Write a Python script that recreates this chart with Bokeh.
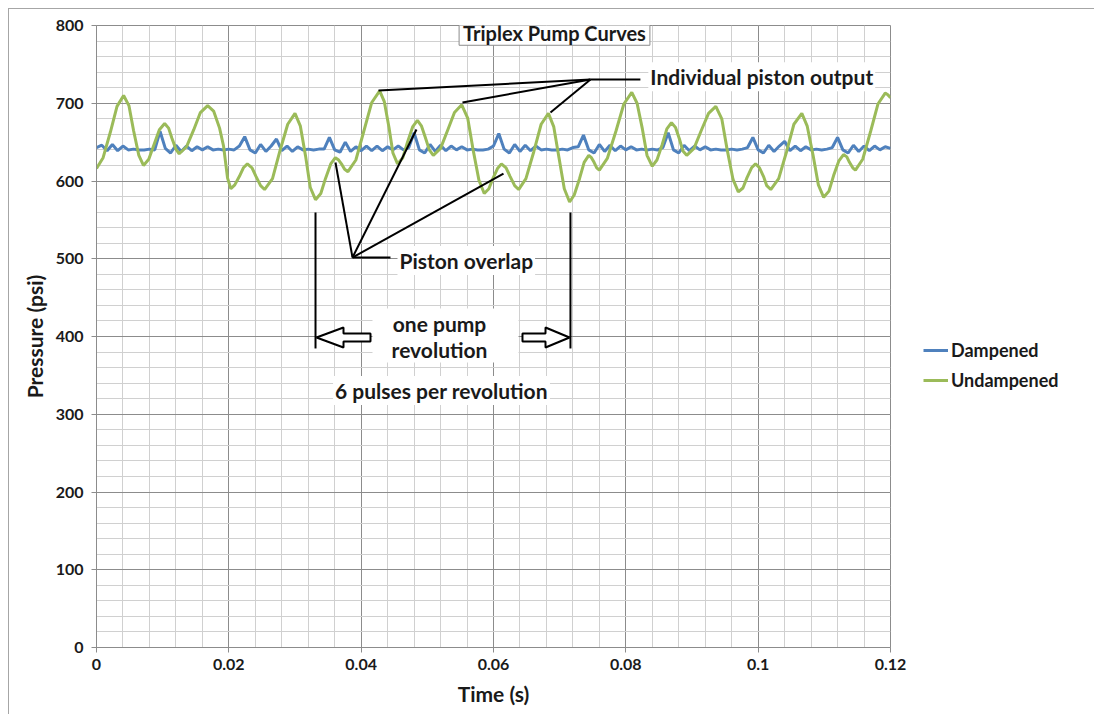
from bokeh.plotting import figure
from bokeh.models import (SingleIntervalTicker, CustomJSTickFormatter, Label, Legend,
                          LegendItem, BoxAnnotation)
from bokeh.embed import file_html
from bokeh.resources import INLINE

# ---------------- data ----------------
# Undampened pump pressure (psi) vs time (s)
und_t = [0.0000, 0.0010, 0.0021, 0.0031, 0.0041, 0.0049, 0.0056, 0.0064, 0.0071, 0.0079,
         0.0087, 0.0095, 0.0103, 0.0109, 0.0114, 0.0120, 0.0125, 0.0136, 0.0147, 0.0157,
         0.0168, 0.0177, 0.0186, 0.0192, 0.0198, 0.0203, 0.0209, 0.0216, 0.0222, 0.0228,
         0.0235, 0.0241, 0.0248, 0.0254, 0.0266, 0.0277, 0.0289, 0.0300, 0.0308, 0.0316,
         0.0323, 0.0331, 0.0339, 0.0346, 0.0354, 0.0361, 0.0366, 0.0371, 0.0375, 0.0380,
         0.0392, 0.0404, 0.0416, 0.0428, 0.0435, 0.0442, 0.0448, 0.0455, 0.0463, 0.0470,
         0.0478, 0.0485, 0.0491, 0.0497, 0.0503, 0.0509, 0.0520, 0.0531, 0.0541, 0.0552,
         0.0561, 0.0569, 0.0578, 0.0586, 0.0593, 0.0599, 0.0606, 0.0612, 0.0619, 0.0625,
         0.0632, 0.0638, 0.0649, 0.0661, 0.0672, 0.0683, 0.0691, 0.0699, 0.0707, 0.0715,
         0.0722, 0.0730, 0.0737, 0.0744, 0.0748, 0.0752, 0.0756, 0.0760, 0.0772, 0.0785,
         0.0797, 0.0809, 0.0817, 0.0825, 0.0832, 0.0840, 0.0847, 0.0855, 0.0862, 0.0869,
         0.0875, 0.0881, 0.0886, 0.0892, 0.0903, 0.0914, 0.0925, 0.0936, 0.0945, 0.0953,
         0.0962, 0.0970, 0.0977, 0.0983, 0.0990, 0.0996, 0.1002, 0.1008, 0.1013, 0.1019,
         0.1031, 0.1043, 0.1054, 0.1066, 0.1074, 0.1083, 0.1091, 0.1099, 0.1107, 0.1114,
         0.1122, 0.1129, 0.1134, 0.1138, 0.1143, 0.1147, 0.1158, 0.1170, 0.1181, 0.1192,
         0.1196, 0.1200]
und_p = [616, 630, 663, 696, 710, 697, 665, 633, 620, 628,
         647, 666, 674, 668, 655, 641, 635, 644, 666, 688,
         697, 690, 668, 645, 604, 590, 595, 606, 617, 622,
         617, 606, 594, 589, 603, 638, 673, 687, 671, 632,
         592, 576, 584, 603, 622, 630, 627, 621, 615, 612,
         627, 664, 701, 716, 702, 669, 636, 622, 630, 650,
         670, 678, 671, 656, 640, 633, 642, 666, 688, 698,
         681, 641, 601, 584, 590, 603, 616, 622, 617, 606,
         594, 589, 603, 638, 673, 687, 670, 630, 590, 573,
         582, 603, 624, 633, 630, 624, 617, 614, 629, 664,
         699, 714, 700, 667, 633, 619, 627, 647, 667, 675,
         669, 654, 639, 633, 642, 665, 687, 696, 680, 641,
         602, 586, 591, 604, 617, 622, 617, 606, 594, 589,
         603, 638, 673, 687, 671, 633, 595, 579, 587, 607,
         626, 634, 631, 624, 617, 614, 628, 664, 699, 713,
         711, 707]

# Dampened pump pressure (psi), sampled every 0.8 ms from t = 0
damp_dt = 0.0008
damp_p = [643, 646, 639, 647, 639, 645, 640, 641, 640, 640,
          641, 640, 664, 642, 636, 646, 638, 645, 639, 644,
          640, 644, 640, 641, 640, 641, 640, 645, 657, 640,
          636, 647, 638, 645, 654, 639, 645, 638, 644, 640,
          641, 640, 641, 641, 656, 640, 637, 650, 638, 644,
          639, 645, 639, 645, 639, 644, 640, 645, 640, 643,
          662, 640, 636, 647, 638, 646, 639, 645, 640, 644,
          640, 641, 640, 640, 641, 645, 661, 641, 636, 647,
          638, 646, 639, 645, 640, 641, 640, 640, 641, 640,
          643, 644, 659, 640, 636, 647, 638, 646, 639, 645,
          640, 644, 640, 641, 640, 641, 640, 643, 662, 640,
          636, 646, 639, 645, 640, 644, 640, 641, 640, 640,
          641, 640, 641, 643, 656, 640, 636, 646, 638, 645,
          651, 639, 645, 639, 644, 640, 641, 640, 641, 643,
          656, 640, 636, 646, 638, 645, 639, 645, 640, 644,
          642]
damp_t = [round(i * damp_dt, 4) for i in range(len(damp_p))]

series_names = ["Dampened", "Undampened"]
title_text = "Triplex Pump Curves"
x_label = "Time (s)"
y_label = "Pressure (psi)"

# ---------------- styling ----------------
FONT = "Lato"
BLUE = "#4f81bd"
GREEN = "#9bbb59"
MAJOR = "#8c8c8c"
MINOR = "#d0d0d0"
TXT = "#1a1a1a"

p = figure(frame_width=794, frame_height=622,
           min_border_left=87, min_border_right=197, min_border_top=16, min_border_bottom=67,
           x_range=(0, 0.12), y_range=(0, 800),
           output_backend="svg", toolbar_location=None)
p.styles = {"margin-left": "8px", "margin-top": "8px",
            "border-left": "1px solid #a6a6a6", "border-top": "1px solid #a6a6a6"}
p.outline_line_color = MAJOR
p.background_fill_color = "white"
p.border_fill_color = "white"

p.xaxis.ticker = SingleIntervalTicker(interval=0.02, num_minor_ticks=5)
p.yaxis.ticker = SingleIntervalTicker(interval=100, num_minor_ticks=5)
p.xaxis.formatter = CustomJSTickFormatter(
    code="return tick.toFixed(2).replace(/0+$/, '').replace(/\\.$/, '');")

for g in (p.xgrid, p.ygrid):
    g.grid_line_color = MAJOR
    g.grid_line_width = 1
    g.minor_grid_line_color = MINOR
    g.minor_grid_line_width = 1

for ax in (p.xaxis, p.yaxis):
    ax.axis_line_color = MAJOR
    ax.major_tick_line_color = MAJOR
    ax.major_tick_out = 5
    ax.major_tick_in = 0
    ax.minor_tick_line_color = None
    ax.major_label_text_font = FONT
    ax.major_label_text_font_style = "bold"
    ax.major_label_text_font_size = "16px"
    ax.major_label_text_color = TXT
    ax.axis_label_text_font = FONT
    ax.axis_label_text_font_style = "bold"
    ax.axis_label_text_font_size = "21px"
    ax.axis_label_text_color = TXT

p.xaxis.axis_label = x_label
p.yaxis.axis_label = y_label
p.xaxis.major_label_standoff = 6
p.yaxis.major_label_standoff = 8
p.xaxis.axis_label_standoff = 8
p.yaxis.axis_label_standoff = 6

r_damp = p.line(damp_t, damp_p, line_color=BLUE, line_width=3)
r_und = p.line(und_t, und_p, line_color=GREEN, line_width=3)

legend = Legend(items=[LegendItem(label=series_names[0], renderers=[r_damp]),
                       LegendItem(label=series_names[1], renderers=[r_und])],
                location=(33, 256), padding=0, margin=0, spacing=8,
                glyph_width=25, glyph_height=20, label_height=20, label_standoff=3,
                border_line_color=None, background_fill_alpha=0,
                label_text_font=FONT, label_text_font_style="bold",
                label_text_font_size="18px", label_text_color=TXT)
p.add_layout(legend, "right")

# ---------------- annotations ----------------
# pointer lines (data coordinates)
seg_x0 = [0.07466, 0.07466, 0.07466, 0.07466, 0.03869, 0.03869, 0.03869, 0.03869, 0.0331, 0.07163]
seg_y0 = [730.5, 730.5, 730.5, 730.5, 501.6, 501.6, 501.6, 501.6, 559.5, 559.5]
seg_x1 = [0.04262, 0.05531, 0.06861, 0.0822, 0.03612, 0.04836, 0.06151, 0.04443, 0.0331, 0.07163]
seg_y1 = [716.4, 701.0, 688.0, 730.5, 623.8, 666.2, 609.6, 501.6, 384.6, 384.6]
p.segment(seg_x0, seg_y0, seg_x1, seg_y1, line_color="black", line_width=2)

# block arrows
la = [0.03325, 0.03733, 0.03733, 0.04141, 0.04141, 0.03733, 0.03733]
ra = [0.07149, 0.06786, 0.06786, 0.06438, 0.06438, 0.06786, 0.06786]
ay = [398.7, 411.6, 403.9, 403.9, 393.6, 393.6, 385.9]
p.patch(la, ay, fill_color="white", line_color="black", line_width=2)
p.patch(ra, ay, fill_color="white", line_color="black", line_width=2)

p.add_layout(BoxAnnotation(left=0.04171, right=0.06378, bottom=366.6, top=436,
                           fill_color="white", fill_alpha=1, line_color=None))


def lab(x, y, text, align="left", bg=True, size="21px", border=None, pad=2):
    return Label(x=x, y=y, text=text, text_font=FONT, text_font_style="bold",
                 text_font_size=size, text_color=TXT, text_align=align,
                 text_baseline="middle",
                 background_fill_color="white" if bg else None,
                 border_line_color=border, padding=pad)


p.add_layout(lab(0.06922, 790, title_text, align="center", size="20px",
                 border="#8c8c8c", pad=(4, 0)))
p.add_layout(lab(0.0834, 734, "Individual piston output"))
p.add_layout(lab(0.04549, 497.7, "Piston overlap"))
p.add_layout(lab(0.05184, 416.7, "one pump", align="center", bg=False))
p.add_layout(lab(0.05184, 383.3, "revolution", align="center", bg=False))
p.add_layout(lab(0.05214, 330.5, "6 pulses per revolution", align="center"))

open("out.html", "w").write(file_html(p, INLINE))
